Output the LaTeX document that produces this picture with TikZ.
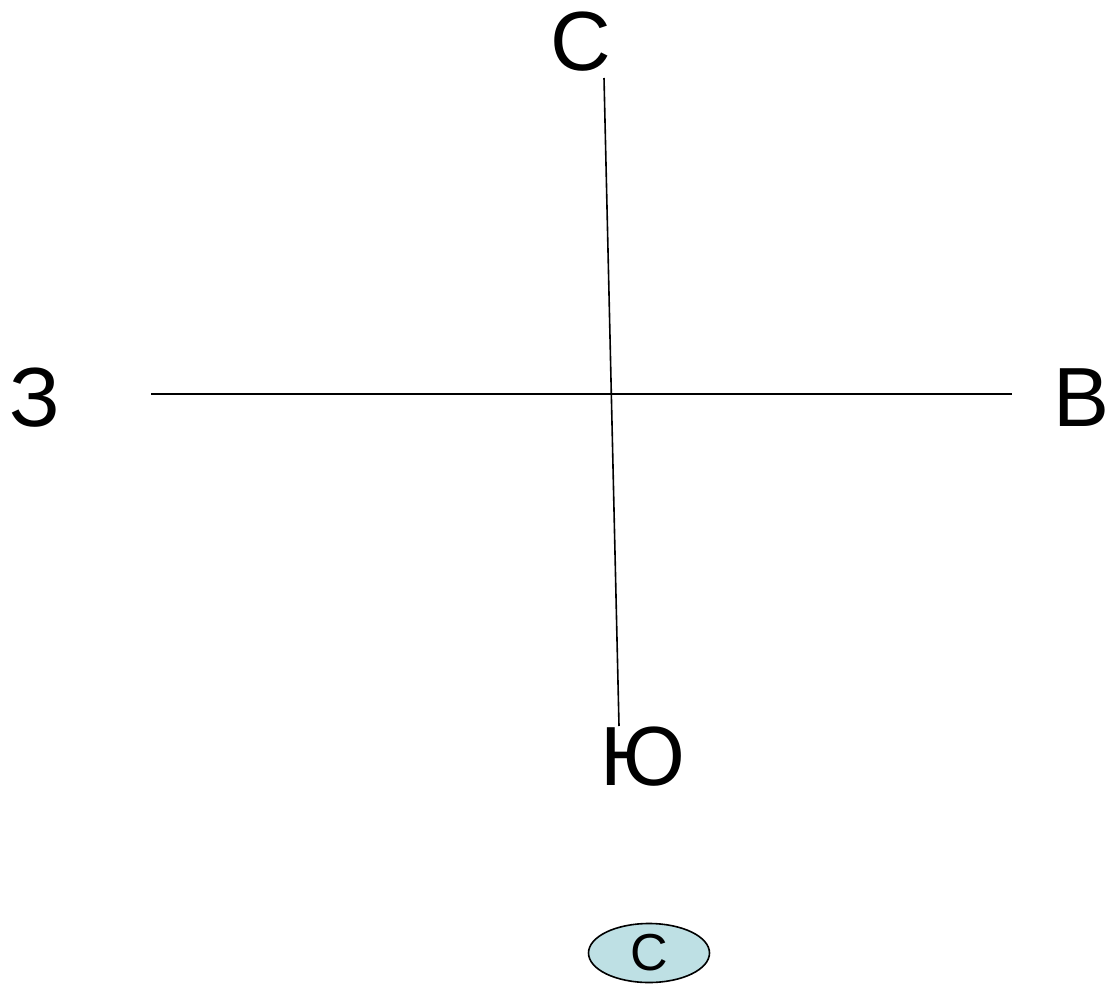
\documentclass[tikz,border=0pt]{standalone}
\usepackage{fontspec}
\setmainfont{Liberation Sans}
\usetikzlibrary{shapes.geometric}
\definecolor{ellfill}{RGB}{190,224,228}
\tikzset{
  lbl/.style={inner sep=0pt, font=\fontsize{84}{90}\selectfont},
  axis/.style={line width=1.6pt, black},
  tag/.style={ellipse, draw=black, line width=1.6pt, fill=ellfill, minimum width=121pt, minimum height=59pt, inner sep=0pt, font=\fontsize{52}{56}\selectfont}
}
\begin{document}
\begin{tikzpicture}[x=1pt,y=-1pt]
\useasboundingbox (0,0) rectangle (1107,984);
\node[lbl] (n) at (581,42) {С};
\node[lbl] (w) at (35,398) {З};
\node[lbl] (e) at (1081,398) {В};
\node[lbl] (s) at (643,757) {Ю};
\coordinate (vtop) at (604,78);
\coordinate (vbot) at (619,726);
\coordinate (hl) at (151,394);
\coordinate (hr) at (1012,394);
\draw[axis] (vtop) -- (vbot);
\draw[axis] (hl) -- (hr);
\node[tag] (c) at (649,953) {С};
\end{tikzpicture}
\end{document}
